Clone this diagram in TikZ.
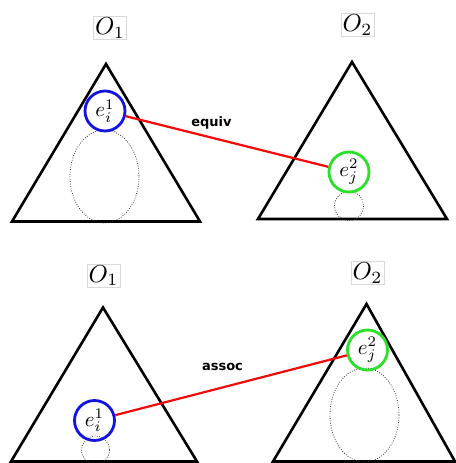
\documentclass[tikz,border=0pt]{standalone}
\usepackage{fontspec}
\usepackage{graphicx}
\newfontfamily\labfont{DejaVu Sans}
\definecolor{cblue}{RGB}{20,20,225}
\definecolor{cgreen}{RGB}{40,225,40}
\definecolor{cred}{RGB}{240,10,10}
\newcommand{\entlab}[1]{\scalebox{2.1}{$#1$}}
\newcommand{\ontlab}[1]{\scalebox{2.45}{$#1$}}
\tikzset{
  tri/.style={draw=black, line width=2.6pt, line join=miter},
  ent/.style={circle, minimum size=40pt, inner sep=0pt, line width=2.8pt},
  entb/.style={ent, draw=cblue},
  entg/.style={ent, draw=cgreen},
  onto/.style={draw=black!15, line width=0.5pt, inner sep=1.5pt},
  dotcirc/.style={draw=black!80, line width=0.8pt, dash pattern=on 0.8pt off 1.6pt},
  link/.style={draw=cred, line width=2.2pt},
  rel/.style={font=\labfont\bfseries\fontsize{13}{15}\selectfont}
}
\begin{document}
\begin{tikzpicture}[x=1pt,y=-1pt]
\useasboundingbox (0,0) rectangle (455,463);
% top left
\draw[tri] (106,64) -- (200,221.5) -- (12,221.5) -- cycle;
\draw[dotcirc] (104.5,176.5) ellipse [x radius=34.5, y radius=46.5];
\node[onto] (o1a) at (110,28) {\ontlab{O_1}};
\node[entb] (e1a) at (105,111) {\entlab{e_i^1}};
% top right
\draw[tri] (352,62) -- (447,219) -- (258,219) -- cycle;
\draw[dotcirc] (349,206) circle [radius=14.5];
\node[onto] (o2a) at (357.5,25) {\ontlab{O_2}};
\node[entg] (e2a) at (349,172) {\entlab{e_j^2}};
\draw[link] (e1a) -- (e2a);
\node[rel] (eq) at (211.5,122.5) {equiv};
% bottom left
\draw[tri] (103,307.5) -- (197,461.5) -- (11,461.5) -- cycle;
\draw[dotcirc] (95.5,450) circle [radius=14];
\node[onto] (o1b) at (103.5,275.5) {\ontlab{O_1}};
\node[entb] (e1b) at (94.5,420.5) {\entlab{e_i^1}};
% bottom right
\draw[tri] (366.5,304) -- (455,461.5) -- (273,461.5) -- cycle;
\draw[dotcirc] (364.5,415) ellipse [x radius=34.5, y radius=47];
\node[onto] (o2b) at (367.5,273) {\ontlab{O_2}};
\node[entg] (e2b) at (367.5,350) {\entlab{e_j^2}};
\draw[link] (e1b) -- (e2b);
\node[rel] (as) at (222.5,366.5) {assoc};
\end{tikzpicture}
\end{document}
